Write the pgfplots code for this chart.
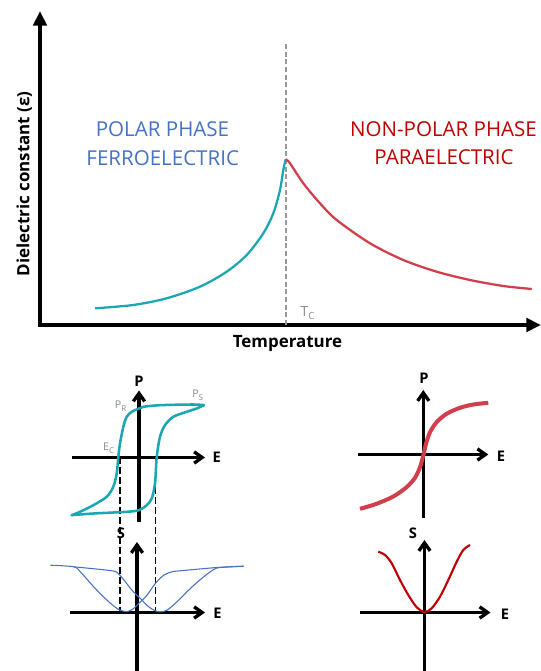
\documentclass[border=0pt]{standalone}
\usepackage{pgfplots}
\pgfplotsset{compat=1.18}
\usepackage{fontspec}
\setmainfont{Open Sans}
\usetikzlibrary{arrows.meta}
\definecolor{tealc}{HTML}{1AA7B4}
\definecolor{redc}{HTML}{D23F4C}
\definecolor{bluet}{HTML}{4472C4}
\definecolor{redt}{HTML}{C00000}
\definecolor{grayd}{HTML}{9A9A9A}
\definecolor{graytxt}{HTML}{8C8C8C}
\pgfplotsset{
  mini/.style={x=0.75pt, y=0.75pt, enlargelimits=false, axis lines=middle,
    xtick=\empty, ytick=\empty, clip=false, anchor=south west,
    axis line style={line width=2.5pt, -{Straight Barb[length=6pt,width=8.5pt]}}},
}
\tikzset{
  lbl/.style={font=\bfseries\fontsize{11}{12}\selectfont, anchor=center},
  sub/.style={graytxt, font=\fontsize{8}{9}\selectfont, anchor=base},
}
\begin{document}
\begin{tikzpicture}[x=0.75pt,y=0.75pt]
\useasboundingbox (0,0) rectangle (541,671);
\coordinate (M) at (40,346);
\coordinate (H) at (72,148.5);
\coordinate (S) at (70,0);
\coordinate (RP) at (358.3,152.7);
\coordinate (RS) at (359.5,0);

% ---------- main chart ----------
\begin{axis}[at={(M)}, anchor=south west, x=0.75pt, y=0.75pt,
  xmin=0, xmax=501, ymin=0, ymax=314, enlargelimits=false,
  axis lines=left, xtick=\empty, ytick=\empty, clip=false,
  axis line style={line width=3.4pt, line cap=rect, -{Triangle[width=10pt,length=11pt]}},
  xlabel={Temperature}, ylabel={Dielectric constant (ε)},
  label style={font=\bfseries\fontsize{12.7}{14}\selectfont},
  xlabel style={at={(axis description cs:0.494,-0.073)}, anchor=base},
  ylabel style={at={(axis description cs:-0.0214,0.449)}, anchor=base}]
\addplot[grayd, line width=1.5pt, dash pattern=on 3.75pt off 2pt] coordinates {(245.7,0) (245.7,282)};
\addplot[tealc, line width=1.7pt, smooth] coordinates {(55,16.7) (93.3,20) (126.7,26.7) (160,38.3) (186.7,53.3) (206.7,70) (223.3,91.7) (233.3,111.7) (240,135) (243.3,155) (245.7,165.7)};
\addplot[redc, line width=1.7pt, smooth] coordinates {(245.7,165.7) (250,161.7) (263.3,141.7) (280,121.7) (296.7,105) (330,81.7) (363.3,65) (396.7,53.3) (430,45) (463.3,39) (491.7,36)};
\node[bluet, font=\fontsize{15.4}{18}\selectfont, anchor=base] at (axis cs:122.5,188) {POLAR PHASE};
\node[bluet, font=\fontsize{15.4}{18}\selectfont, anchor=base] at (axis cs:122.7,159.3) {FERROELECTRIC};
\node[redt, font=\fontsize{15.4}{18}\selectfont, anchor=base] at (axis cs:403.5,188.3) {NON-POLAR PHASE};
\node[redt, font=\fontsize{15.4}{18}\selectfont, anchor=base] at (axis cs:404,160) {PARAELECTRIC};
\node[graytxt, font=\fontsize{10.5}{12}\selectfont, anchor=base west] at (axis cs:256,8) {T\textsubscript{C}};
\end{axis}

% ---------- hysteresis loop ----------
\begin{axis}[mini, at={(H)}, xmin=-67, xmax=66, ymin=-65, ymax=67]
\addplot[black, line width=0.8pt, dash pattern=on 5pt off 2.5pt] coordinates {(-19,0) (-19,-155)};
\addplot[black, line width=0.8pt, dash pattern=on 5pt off 2.5pt] coordinates {(16.7,0) (16.7,-155)};
\addplot[tealc, line width=1.9pt, smooth, line cap=round] coordinates {(65,52.3) (54.3,53) (21,52.3) (4.3,50.7) (0,49) (-7.3,45.7) (-12.3,40.7) (-15.7,30.7) (-19,14) (-20.7,0) (-22.3,-16) (-25.7,-29.3) (-32.3,-39.3) (-45.7,-47.7) (-59,-54.3) (-67.3,-57.7)};
\addplot[tealc, line width=1.9pt, smooth, line cap=round] coordinates {(-67.3,-57.7) (-45.7,-56) (-12.3,-54.3) (0,-52.7) (7.7,-47.7) (12.7,-41) (16,-26) (17.7,0) (21,20.7) (26,32.3) (34.3,40.7) (47.7,45.7) (57.7,49) (65,52.3)};
\node[lbl] at (axis cs:0,76.5) {P};
\node[lbl] at (axis cs:77.7,0) {E};
\node[sub] at (axis cs:-18,48.5) {P\textsubscript{R}};
\node[sub] at (axis cs:59,59.5) {P\textsubscript{S}};
\node[sub] at (axis cs:-30,6.5) {E\textsubscript{C}};
\end{axis}

% ---------- butterfly ----------
\begin{axis}[mini, at={(S)}, xmin=-67, xmax=68, ymin=-58.5, ymax=70.5]
\addplot[bluet, line width=0.8pt, smooth] coordinates {(-86.7,47.3) (-63.3,45.7) (-56.7,40.7) (-43.3,25.7) (-30,12.3) (-20,4) (-15,1.7) (-9.3,1) (-3.3,4) (1.7,9) (10,17.3) (18.3,29) (26.7,37.3) (35,40.7) (43.3,41.7) (80,45) (106.7,46.3)};
\addplot[bluet, line width=0.8pt, smooth] coordinates {(-63.3,45.7) (-25,41.7) (-18.3,38.3) (-11.7,30.7) (-5,22.3) (3.3,14) (11.7,5.7) (18.3,1.7) (23.3,0.7) (30,2.3) (40,10.7) (53.3,24) (66.7,35.7) (76.7,43) (83.3,45) (106.7,46.3)};
\node[lbl] at (axis cs:-16,79.5) {S};
\node[lbl] at (axis cs:80.5,-0.5) {E};
\end{axis}

% ---------- paraelectric P-E ----------
\begin{axis}[mini, at={(RP)}, xmin=-65, xmax=65, ymin=-63.8, ymax=64.5]
\addplot[redc, line width=3pt, smooth] coordinates {(-63.3,-54.3) (-46.7,-49.3) (-30,-42) (-16.7,-32.7) (-8.3,-23.3) (-3.3,-12.7) (0,-1) (2.7,10.7) (6.7,22.3) (13.3,32.3) (23.3,40.7) (36.7,46.7) (50,50) (65,51.7)};
\node[lbl] at (axis cs:0.7,76.5) {P};
\node[lbl] at (axis cs:77.7,-1.5) {E};
\end{axis}

% ---------- paraelectric S-E ----------
\begin{axis}[mini, at={(RS)}, xmin=-65, xmax=66, ymin=-58.5, ymax=72.5]
\addplot[redt, line width=1.6pt, smooth] coordinates {(-46.2,60.8) (-39.5,57.5) (-32.8,49.2) (-24.5,32.5) (-16.2,17.5) (-7.8,5.2) (0,0.5) (7.2,4.2) (15.5,15.8) (23.8,32.5) (32.2,50.8) (38.8,62.5) (45.5,67.5)};
\node[lbl] at (axis cs:-11.5,79.5) {S};
\node[lbl] at (axis cs:80.5,-1.5) {E};
\end{axis}
\end{tikzpicture}
\end{document}
